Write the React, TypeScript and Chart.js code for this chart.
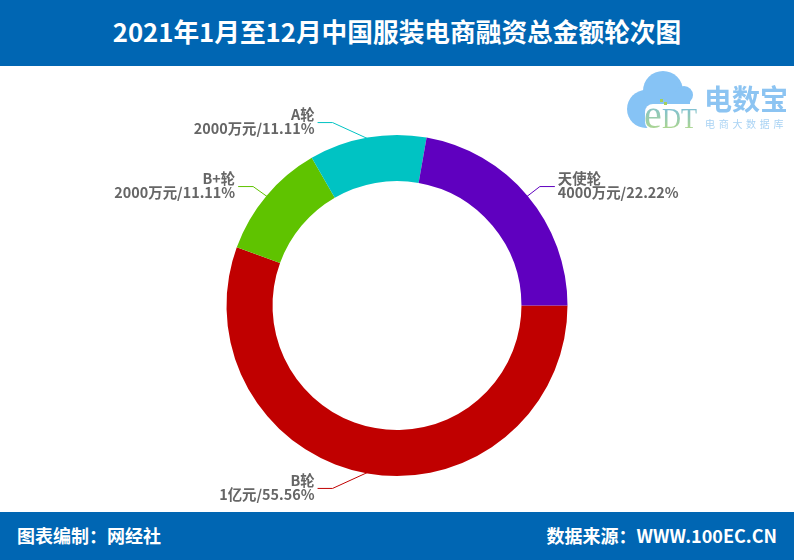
import { useEffect, useRef } from "react"
import { Chart, registerables } from "chart.js"

Chart.register(...registerables)

// clockwise from 3 o'clock
const rounds = ["B轮", "B+轮", "A轮", "天使轮"]
const amounts = [10000, 2000, 2000, 4000]
const amountLabels = ["1亿元", "2000万元", "2000万元", "4000万元"]
const shares = ["55.56%", "11.11%", "11.11%", "22.22%"]
const colors = ["#c00000", "#5fc300", "#00c3c3", "#5f00bf"]

const FONT = '"Noto Sans CJK SC", "Noto Sans", sans-serif'

// elbow offset from the slice edge, per label
const elbows = [
  [-35, 16],
  [-14, -10],
  [-35, -16],
  [13, -10],
]

const labelsPlugin = {
  id: "sliceLabels",
  afterDatasetsDraw(chart: Chart) {
    const ctx = chart.ctx
    chart.getDatasetMeta(0).data.forEach((el: any, i: number) => {
      const { x, y, outerRadius, startAngle, endAngle } = el.getProps(
        ["x", "y", "outerRadius", "startAngle", "endAngle"],
        true
      )
      const mid = (startAngle + endAngle) / 2
      const sx = x + Math.cos(mid) * (outerRadius - 1)
      const sy = y + Math.sin(mid) * (outerRadius - 1)
      const ex = sx + elbows[i][0]
      const ey = sy + elbows[i][1]
      const right = ex > x
      const tx = ex + (right ? 15 : -15)

      ctx.save()
      ctx.strokeStyle = colors[i]
      ctx.lineWidth = 1
      ctx.beginPath()
      ctx.moveTo(sx, sy)
      ctx.lineTo(ex, ey)
      ctx.lineTo(tx, ey)
      ctx.stroke()

      ctx.fillStyle = "#666666"
      ctx.textAlign = right ? "left" : "right"
      ctx.textBaseline = "middle"
      ctx.font = `bold 14.4px ${FONT}`
      const textX = tx + (right ? 3 : -3)
      ctx.fillText(rounds[i], textX, ey - 8)
      ctx.fillText(`${amountLabels[i]}/${shares[i]}`, textX, ey + 6)
      ctx.restore()
    })
  },
}

function Logo() {
  return (
    <svg
      width="170"
      height="70"
      viewBox="0 0 170 70"
      style={{ position: "absolute", left: 624, top: 68 }}
    >
      <defs>
        <linearGradient id="edt" x1="0" y1="0" x2="0" y2="1">
          <stop offset="0" stopColor="#6fb8ee" />
          <stop offset="1" stopColor="#b9dc7c" />
        </linearGradient>
      </defs>
      <g fill="#86c3f5">
        <circle cx="22" cy="41" r="19" />
        <circle cx="39" cy="23" r="20" />
        <circle cx="60" cy="27" r="9" />
        <rect x="22" y="24" width="44" height="16" />
      </g>
      <rect x="21" y="36" width="55" height="26" rx="8" fill="#ffffff" />
      <rect x="36" y="31" width="3" height="3" fill="#a5cf5a" />
      <rect x="40" y="34" width="3" height="3" fill="#a5cf5a" />
      <text
        x="20"
        y="60"
        fontFamily='"Liberation Serif", serif'
        fontSize="40"
        fill="url(#edt)"
      >
        e
      </text>
      <text
        x="38"
        y="60"
        fontFamily='"Liberation Serif", serif'
        fontSize="30"
        textLength="35"
        lengthAdjust="spacingAndGlyphs"
        fill="url(#edt)"
      >
        DT
      </text>
      <text
        x="80"
        y="42"
        fontFamily={FONT}
        fontWeight="700"
        fontSize="28"
        fill="#8cc4f2"
      >
        电数宝
      </text>
      <text
        x="81"
        y="60"
        fontFamily={FONT}
        fontSize="10"
        letterSpacing="3.7"
        fill="#a9d3f4"
      >
        电商大数据库
      </text>
    </svg>
  )
}

export default function App() {
  const canvasRef = useRef<HTMLCanvasElement>(null)

  useEffect(() => {
    if (!canvasRef.current) return
    const chart = new Chart(canvasRef.current, {
      type: "doughnut",
      data: {
        labels: rounds,
        datasets: [{ data: amounts, backgroundColor: colors, borderWidth: 0 }],
      },
      options: {
        responsive: false,
        animation: false,
        rotation: 90,
        cutout: "73%",
        layout: { padding: { top: 69, bottom: 36, left: 226.5, right: 226.5 } },
        plugins: { legend: { display: false }, tooltip: { enabled: false } },
      },
      plugins: [labelsPlugin],
    })
    return () => chart.destroy()
  }, [])

  return (
    <div
      style={{
        position: "absolute",
        left: 0,
        top: 0,
        width: 794,
        height: 560,
        background: "#ffffff",
        overflow: "hidden",
        fontFamily: FONT,
      }}
    >
      <div
        style={{
          position: "absolute",
          left: 0,
          top: 0,
          width: 794,
          height: 66,
          background: "#0066b3",
          color: "#ffffff",
          fontSize: 25.7,
          fontWeight: 700,
          lineHeight: "61px",
          textAlign: "center",
        }}
      >
        2021年1月至12月中国服装电商融资总金额轮次图
      </div>
      <canvas
        ref={canvasRef}
        width={794}
        height={446}
        style={{ position: "absolute", left: 0, top: 66 }}
      />
      <Logo />
      <div
        style={{
          position: "absolute",
          left: 0,
          top: 512,
          width: 794,
          height: 48,
          background: "#0066b3",
          color: "#ffffff",
          fontSize: 18,
          fontWeight: 700,
          lineHeight: "47px",
        }}
      >
        <span style={{ position: "absolute", left: 17 }}>图表编制：网经社</span>
        <span style={{ position: "absolute", right: 17 }}>
          数据来源：WWW.100EC.CN
        </span>
      </div>
    </div>
  )
}
